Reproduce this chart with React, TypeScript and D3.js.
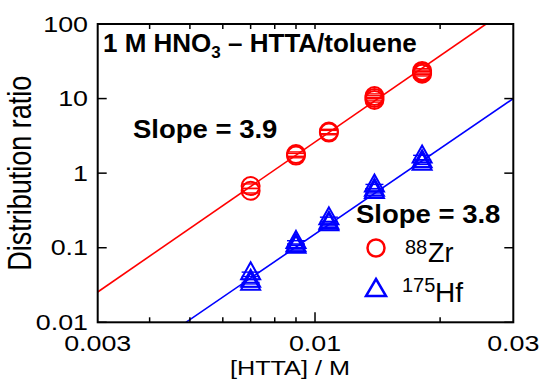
import React from 'react';
import * as d3 from 'd3';

// [HTTA] / M for each measured point
const httaConc = [0.007, 0.009, 0.0108, 0.0139, 0.0181];

// replicate distribution ratios at each concentration
const zrRatios = [
  [0.58, 0.67],
  [1.72, 1.8],
  [3.5, 3.62],
  [9.6, 10.2, 10.8],
  [21.5, 22.5, 23.5],
];
const hfRatios = [
  [0.032, 0.035, 0.044],
  [0.1, 0.105, 0.116],
  [0.2, 0.21, 0.24],
  [0.54, 0.58, 0.66],
  [1.3, 1.4, 1.62],
];

// fitted lines, end points
const zrFitX = [0.003, 0.0258];
const zrFitY = [0.0255, 100];
const hfFitX = [0.00489, 0.03];
const hfFitY = [0.01, 10];

const yTicks = [0.01, 0.1, 1, 10, 100];
const yTickLabels = ['0.01', '0.1', '1', '10', '100'];
const xMinorTicks = [0.004, 0.005, 0.006, 0.007, 0.008, 0.009, 0.02];
const xMajorTicks = [0.01];
const xTickLabels = [
  { v: 0.003, t: '0.003' },
  { v: 0.01, t: '0.01' },
  { v: 0.03, t: '0.03' },
];

const W = 542;
const H = 379;
const left = 97.7;
const right = 513.3;
const top = 24;
const bottom = 322.3;

const font = '"Liberation Sans", Arial, Helvetica, sans-serif';
const RED = '#ff0000';
const BLUE = '#0000ff';

const App: React.FC = () => {
  const x = d3.scaleLog().domain([0.003, 0.03]).range([left, right]);
  const y = d3.scaleLog().domain([0.01, 100]).range([bottom, top]);

  const line = d3
    .line<[number, number]>()
    .x((d) => x(d[0]))
    .y((d) => y(d[1]));

  const zrFit = zrFitX.map((v, i) => [v, zrFitY[i]] as [number, number]);
  const hfFit = hfFitX.map((v, i) => [v, hfFitY[i]] as [number, number]);

  const tri = (cx: number, cy: number) =>
    `M${cx},${cy - 12}L${cx + 9.5},${cy + 5}L${cx - 9.5},${cy + 5}Z`;

  return (
    <svg
      width={W}
      height={H}
      style={{ position: 'absolute', left: 0, top: 0, background: '#fff' }}
      fontFamily={font}
    >
      <defs>
        <clipPath id="plot">
          <rect x={left} y={top} width={right - left} height={bottom - top} />
        </clipPath>
      </defs>

      {/* fit lines */}
      <g clipPath="url(#plot)" fill="none" strokeWidth={1.6}>
        <path d={line(zrFit) || ''} stroke={RED} />
        <path d={line(hfFit) || ''} stroke={BLUE} />
      </g>

      {/* Zr points */}
      <g fill="none" stroke={RED} strokeWidth={2}>
        {httaConc.map((c, i) =>
          zrRatios[i].map((v, j) => (
            <g key={`zr${i}-${j}`}>
              <circle cx={x(c)} cy={y(v)} r={9} />
              <line x1={x(c) - 8} x2={x(c) + 8} y1={y(v * 1.07)} y2={y(v * 1.07)} strokeWidth={1.4} />
              <line x1={x(c) - 8} x2={x(c) + 8} y1={y(v / 1.07)} y2={y(v / 1.07)} strokeWidth={1.4} />
            </g>
          ))
        )}
      </g>

      {/* Hf points */}
      <g fill="none" stroke={BLUE} strokeWidth={2}>
        {httaConc.map((c, i) =>
          hfRatios[i].map((v, j) => (
            <g key={`hf${i}-${j}`}>
              <path d={tri(x(c), y(v))} />
              <line x1={x(c) - 9} x2={x(c) + 9} y1={y(v * 1.07)} y2={y(v * 1.07)} strokeWidth={1.4} />
              <line x1={x(c) - 9} x2={x(c) + 9} y1={y(v / 1.07)} y2={y(v / 1.07)} strokeWidth={1.4} />
            </g>
          ))
        )}
      </g>

      {/* frame */}
      <rect x={left} y={top} width={right - left} height={bottom - top} fill="none" stroke="#000" strokeWidth={2} />

      {/* ticks, inward */}
      <g stroke="#000" strokeWidth={1.5}>
        {yTicks.map((t) => (
          <g key={`yt${t}`}>
            <line x1={left} x2={left + 9} y1={y(t)} y2={y(t)} />
            <line x1={right} x2={right - 9} y1={y(t)} y2={y(t)} />
          </g>
        ))}
        {xMinorTicks.map((t) => (
          <g key={`xm${t}`}>
            <line x1={x(t)} x2={x(t)} y1={bottom} y2={bottom - 5} />
            <line x1={x(t)} x2={x(t)} y1={top} y2={top + 5} />
          </g>
        ))}
        {xMajorTicks.map((t) => (
          <g key={`xM${t}`}>
            <line x1={x(t)} x2={x(t)} y1={bottom} y2={bottom - 10} />
            <line x1={x(t)} x2={x(t)} y1={top} y2={top + 5} />
          </g>
        ))}
      </g>

      {/* tick labels */}
      <g fontSize={22} fill="#000">
        {yTicks.map((t, i) => (
          <text
            key={`yl${t}`}
            transform={`translate(88,${y(t) + 7.5}) scale(1.22,1)`}
            textAnchor="end"
          >
            {yTickLabels[i]}
          </text>
        ))}
        {xTickLabels.map((d) => (
          <text
            key={`xl${d.v}`}
            transform={`translate(${x(d.v)},351) scale(1.22,1)`}
            textAnchor="middle"
          >
            {d.t}
          </text>
        ))}
      </g>

      {/* axis titles */}
      <text transform="translate(230,375) scale(1.2,1)" fontSize={21}>
        [HTTA] / M
      </text>
      <text
        transform={`translate(31,${(top + bottom) / 2}) rotate(-90) scale(1,1.21)`}
        fontSize={27}
        textAnchor="middle"
      >
        Distribution ratio
      </text>

      {/* annotations */}
      <text x={103} y={52} fontSize={26} fontWeight="bold">
        <tspan>1 M HNO</tspan>
        <tspan fontSize={17} dy={6}>3</tspan>
        <tspan dy={-6}> – HTTA/toluene</tspan>
      </text>
      <text transform="translate(133,138) scale(1.1,1)" fontSize={25} fontWeight="bold">
        Slope = 3.9
      </text>
      <text transform="translate(356,223) scale(1.1,1)" fontSize={25} fontWeight="bold">
        Slope = 3.8
      </text>

      {/* legend */}
      <circle cx={376} cy={248} r={8.5} fill="none" stroke={RED} strokeWidth={2.5} />
      <text x={405} y={254} fontSize={20}>88</text>
      <text x={428} y={262} fontSize={27}>Zr</text>
      <path d="M376,279L386,296L366,296Z" fill="none" stroke={BLUE} strokeWidth={2.5} />
      <text x={402} y={292} fontSize={20}>175</text>
      <text x={435} y={302} fontSize={28}>Hf</text>
    </svg>
  );
};

export default App;
